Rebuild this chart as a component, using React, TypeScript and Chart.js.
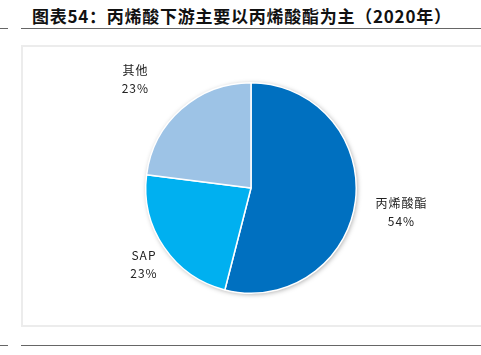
import React, { useEffect, useRef } from "react";
import { Chart, registerables } from "chart.js";

Chart.register(...registerables);

const TITLE = "图表54：丙烯酸下游主要以丙烯酸酯为主（2020年）";
const categories = ["丙烯酸酯", "SAP", "其他"];
const shares = [54, 23, 23];
const shareLabels = ["54%", "23%", "23%"];
const sliceColors = ["#0070C0", "#00B0F0", "#9DC3E6"];
// label offsets (px) from the outer midpoint of each slice
const LABEL_OFFSETS: [number, number][] = [
  [46, 11],
  [-20, 17],
  [-46, -30],
];

const shadowPlugin = {
  id: "pieShadow",
  beforeDatasetsDraw(chart: any) {
    const meta = chart.getDatasetMeta(0);
    const arc = meta.data[0];
    if (!arc) return;
    const { x, y, outerRadius } = arc.getProps(["x", "y", "outerRadius"], true);
    const ctx = chart.ctx;
    ctx.save();
    ctx.shadowColor = "rgba(0,0,0,0.35)";
    ctx.shadowBlur = 5;
    ctx.shadowOffsetX = 1;
    ctx.shadowOffsetY = 1;
    ctx.fillStyle = "#ffffff";
    ctx.beginPath();
    ctx.arc(x, y, outerRadius, 0, Math.PI * 2);
    ctx.fill();
    ctx.restore();
  },
};

const labelPlugin = {
  id: "outerLabels",
  afterDatasetsDraw(chart: any) {
    const meta = chart.getDatasetMeta(0);
    const ctx = chart.ctx;
    ctx.save();
    ctx.fillStyle = "#222";
    ctx.font = '12px "Noto Sans CJK SC", "Noto Sans", sans-serif';
    ctx.textAlign = "center";
    ctx.textBaseline = "middle";
    try {
      (ctx as any).letterSpacing = "1px";
    } catch (e) {}
    meta.data.forEach((el: any, i: number) => {
      const { x, y, startAngle, endAngle, outerRadius } = el.getProps(
        ["x", "y", "startAngle", "endAngle", "outerRadius"],
        true
      );
      const mid = (startAngle + endAngle) / 2;
      const ax = x + Math.cos(mid) * outerRadius;
      const ay = y + Math.sin(mid) * outerRadius;
      const [dx, dy] = LABEL_OFFSETS[i];
      const cx = ax + dx;
      const cy = ay + dy;
      ctx.fillText(categories[i], cx, cy - 9);
      ctx.fillText(shareLabels[i], cx, cy + 9);
    });
    ctx.restore();
  },
};

export default function App() {
  const ref = useRef<HTMLCanvasElement | null>(null);
  useEffect(() => {
    if (!ref.current) return;
    const chart = new Chart(ref.current, {
      type: "pie",
      data: {
        labels: categories,
        datasets: [
          {
            data: shares,
            backgroundColor: sliceColors,
            borderColor: "#ffffff",
            borderWidth: 1.5,
          },
        ],
      },
      options: {
        responsive: false,
        animation: false,
        rotation: 0,
        layout: { padding: { left: 145, right: 124, top: 82, bottom: 61 } },
        plugins: {
          legend: { display: false },
          tooltip: { enabled: false },
          title: { display: false },
        },
      },
      plugins: [shadowPlugin, labelPlugin],
    });
    return () => chart.destroy();
  }, []);

  const line = (top: number, left: number, width: number) => (
    <div
      style={{
        position: "absolute",
        top,
        left,
        width,
        height: 1,
        background: "#666",
      }}
    />
  );

  return (
    <div
      style={{
        position: "fixed",
        left: 0,
        top: 0,
        width: 481,
        height: 355,
        background: "#fff",
        overflow: "hidden",
      }}
    >
      <div
        style={{
          position: "absolute",
          left: 32,
          top: 7,
          fontFamily: '"Noto Sans CJK SC", sans-serif',
          fontWeight: 700,
          fontSize: 17,
          lineHeight: "17px",
          letterSpacing: "0.75px",
          color: "#111",
          whiteSpace: "nowrap",
        }}
      >
        {TITLE}
      </div>
      {line(28, 0, 8)}
      {line(28, 21, 460)}
      <div
        style={{
          position: "absolute",
          left: 21,
          top: 45,
          width: 480,
          height: 278,
          border: "2px solid #ececec",
        }}
      />
      <canvas
        ref={ref}
        width={481}
        height={355}
        style={{ position: "absolute", left: 0, top: 0, width: 481, height: 355 }}
      />
      {line(345, 0, 8)}
      {line(345, 21, 460)}
    </div>
  );
}
